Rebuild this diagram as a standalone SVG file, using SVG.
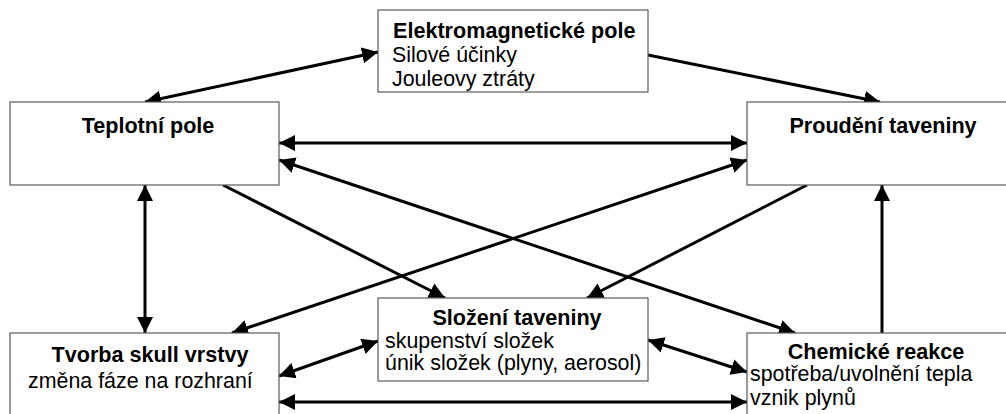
<svg xmlns="http://www.w3.org/2000/svg" width="1006" height="414" viewBox="0 0 1006 414">
  <style>
    .box { fill: #ffffff; stroke: #5a5a5a; stroke-width: 1.2; }
    .title { font-family: "Liberation Sans", Arial, sans-serif; font-size: 21.6px; font-weight: bold; fill: #000; }
    .line { font-family: "Liberation Sans", Arial, sans-serif; font-size: 21.4px; fill: #000; }
    .mid { text-anchor: middle; }
    .conn { stroke: #000; stroke-width: 3; fill: none; }
  </style>
  <defs>
    <marker id="arrow" markerUnits="userSpaceOnUse" markerWidth="17" markerHeight="17"
            viewBox="0 0 17 17" refX="16" refY="8.5" orient="auto-start-reverse">
      <path d="M0,0.5 L16,8.5 L0,16.5 z" fill="#000"/>
    </marker>
  </defs>

  <rect width="1006" height="414" fill="#ffffff"/>

  <!-- connectors -->
  <g id="connectors">
    <!-- Elektromagneticke pole <-> Teplotni pole -->
    <line class="conn" x1="378" y1="52" x2="145" y2="102" marker-start="url(#arrow)" marker-end="url(#arrow)"/>
    <!-- Elektromagneticke pole -> Proudeni taveniny -->
    <line class="conn" x1="648" y1="55" x2="880" y2="102" marker-end="url(#arrow)"/>
    <!-- Teplotni pole <-> Proudeni taveniny -->
    <line class="conn" x1="279" y1="143" x2="747" y2="143" marker-start="url(#arrow)" marker-end="url(#arrow)"/>
    <!-- Teplotni pole <-> Chemicke reakce -->
    <line class="conn" x1="279" y1="160" x2="795" y2="333" marker-start="url(#arrow)" marker-end="url(#arrow)"/>
    <!-- Proudeni taveniny <-> Tvorba skull vrstvy -->
    <line class="conn" x1="747" y1="160" x2="232" y2="333" marker-start="url(#arrow)" marker-end="url(#arrow)"/>
    <!-- Teplotni pole -> Slozeni taveniny -->
    <line class="conn" x1="223" y1="185" x2="445" y2="298" marker-end="url(#arrow)"/>
    <!-- Proudeni taveniny -> Slozeni taveniny -->
    <line class="conn" x1="807" y1="185" x2="587" y2="298" marker-end="url(#arrow)"/>
    <!-- Teplotni pole <-> Tvorba skull vrstvy -->
    <line class="conn" x1="145" y1="185" x2="145" y2="333" marker-start="url(#arrow)" marker-end="url(#arrow)"/>
    <!-- Chemicke reakce -> Proudeni taveniny -->
    <line class="conn" x1="882" y1="333" x2="882" y2="185" marker-end="url(#arrow)"/>
    <!-- Tvorba skull vrstvy <-> Slozeni taveniny -->
    <line class="conn" x1="279" y1="376" x2="378" y2="341" marker-start="url(#arrow)" marker-end="url(#arrow)"/>
    <!-- Slozeni taveniny <-> Chemicke reakce -->
    <line class="conn" x1="648" y1="340" x2="747" y2="372" marker-start="url(#arrow)" marker-end="url(#arrow)"/>
    <!-- Tvorba skull vrstvy <-> Chemicke reakce -->
    <line class="conn" x1="279" y1="402" x2="747" y2="402" marker-start="url(#arrow)" marker-end="url(#arrow)"/>
  </g>

  <g id="node-em">
    <rect class="box" x="378" y="10" width="270" height="82"/>
    <text class="title" x="393" y="38">Elektromagnetické pole</text>
    <text class="line" x="392" y="62">Silové účinky</text>
    <text class="line" x="392" y="86">Jouleovy ztráty</text>
  </g>

  <g id="node-teplotni">
    <rect class="box" x="10" y="102" width="269" height="83"/>
    <text class="title mid" x="148" y="133">Teplotní pole</text>
  </g>

  <g id="node-proudeni">
    <rect class="box" x="747" y="102" width="269" height="83"/>
    <text class="title mid" x="883" y="133">Proudění taveniny</text>
  </g>

  <g id="node-skull">
    <rect class="box" x="10" y="333" width="269" height="90"/>
    <text class="title mid" x="150" y="362">Tvorba skull vrstvy</text>
    <text class="line" x="28" y="388">změna fáze na rozhraní</text>
  </g>

  <g id="node-slozeni">
    <rect class="box" x="378" y="298" width="270" height="83"/>
    <text class="title mid" x="517" y="325">Složení taveniny</text>
    <text class="line" x="385" y="348">skupenství složek</text>
    <text class="line" x="385" y="370">únik složek (plyny, aerosol)</text>
  </g>

  <g id="node-chemicke">
    <rect class="box" x="747" y="333" width="269" height="90"/>
    <text class="title mid" x="876" y="359">Chemické reakce</text>
    <text class="line" x="750" y="381">spotřeba/uvolnění tepla</text>
    <text class="line" x="750" y="405">vznik plynů</text>
  </g>
</svg>
